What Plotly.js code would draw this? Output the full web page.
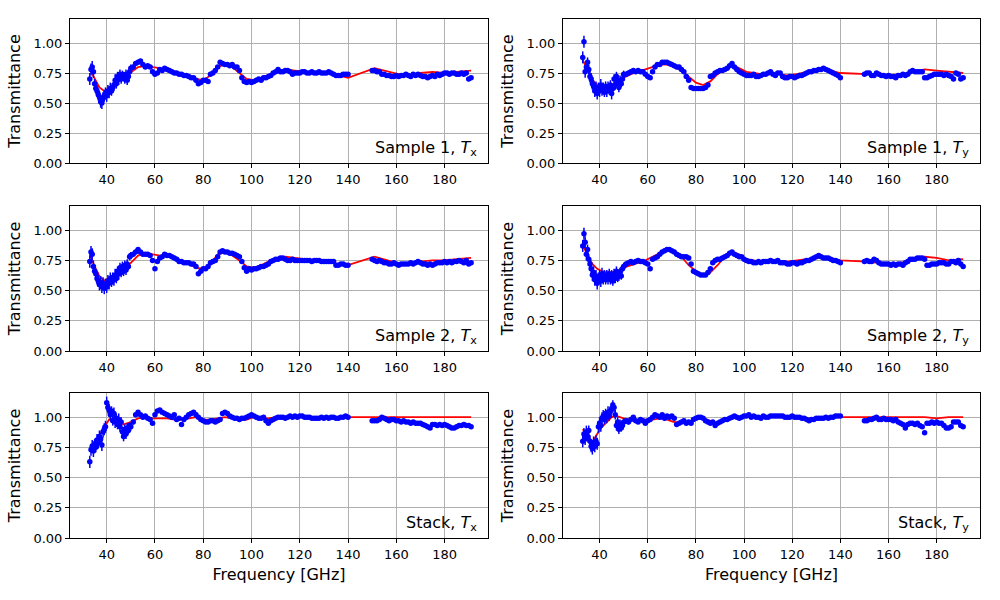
<!DOCTYPE html>
<html>
<head>
<meta charset="utf-8">
<script src="https://cdn.plot.ly/plotly-3.0.1.min.js"></script>
<style>html,body{margin:0;padding:0;background:#fff;}#chart{width:1000px;height:600px;}</style>
</head>
<body>
<div id="chart"></div>
<script>
// Measured frequencies [GHz]
const freq = [
33,33.5,34,34.5,35,35.5,36,36.5,37,37.5,38,38.5,39,39.5,40,40.5,41,41.5,42,42.5,43,43.5,44,44.5,45,45.5,46,46.5,47,47.5,48,48.5,49,49.5,50,
51,52,53,54,55,56,57,58,59,60,
61,62,63,64,65,66,67,68,69,70,
71,72,73,74,75,76,77,78,79,80,
81,82,83,84,85,86,87,88,89,90,
91,92,93,94,95,96,97,98,99,100,
101,102,103,104,105,106,107,108,109,110,
111,112,113,114,115,116,117,118,119,120,
121,122,123,124,125,126,127,128,129,130,
131,132,133,134,135,136,137,138,139,140,
150,151,152,153,154,155,156,157,158,159,
160,161,162,163,164,165,166,167,168,169,
170,171,172,173,174,175,176,177,178,179,
180,181,182,183,184,185,186,187,188,189,190,191];

// Measurement uncertainty (shared)
const sigma = [
0.05,0.05,0.05,0.05,0.04,0.04,0.05,0.05,0.05,0.05,0.05,0.05,0.05,0.05,0.05,0.05,0.05,0.05,0.04,0.04,0.05,0.05,0.04,0.04,0.05,0.04,0.04,0.04,0.04,0.04,0.04,0.04,0.03,0.03,0.03,
0.02,0.02,0.02,0.015,0.015,0.015,0.015,0.015,0.015,0.015,
0.01,0.01,0.01,0.01,0.01,0.01,0.01,0.01,0.01,0.01,
0.01,0.01,0.01,0.01,0.01,0.01,0.01,0.01,0.01,0.01,
0.01,0.01,0.01,0.01,0.01,0.01,0.01,0.01,0.01,0.01,
0.01,0.01,0.01,0.01,0.01,0.01,0.01,0.01,0.01,0.01,
0.01,0.01,0.01,0.01,0.01,0.01,0.01,0.01,0.01,0.01,
0.01,0.01,0.01,0.01,0.01,0.01,0.01,0.01,0.01,0.01,
0.01,0.01,0.01,0.01,0.01,0.01,0.01,0.01,0.01,0.01,
0.01,0.01,0.01,0.01,0.01,0.01,0.01,0.01,0.01,0.01,
0.01,0.01,0.01,0.01,0.01,0.01,0.01,0.01,0.01,0.01,
0.01,0.01,0.01,0.01,0.01,0.01,0.01,0.01,0.01,0.01,
0.01,0.01,0.01,0.01,0.01,0.01,0.01,0.01,0.01,0.01,
0.01,0.01,0.01,0.01,0.01,0.01,0.01,0.01,0.01,0.01,0.01,0.01];

const s1Tx = [
0.70,0.78,0.80,0.76,0.66,0.62,0.60,0.57,0.55,0.51,0.50,0.54,0.56,0.58,0.56,0.60,0.59,0.62,0.60,0.63,0.65,0.69,0.66,0.72,0.70,0.74,0.70,0.73,0.72,0.70,0.74,0.69,0.72,0.76,0.79,
0.80,0.83,0.84,0.85,0.82,0.80,0.81,0.80,0.76,0.74,
0.75,0.78,0.77,0.79,0.78,0.77,0.76,0.75,0.75,0.74,
0.74,0.73,0.73,0.72,0.71,0.71,0.69,0.66,0.67,0.69,
0.69,0.68,0.74,0.75,0.77,0.80,0.84,0.83,0.82,0.82,
0.81,0.82,0.80,0.80,0.77,0.71,0.68,0.67,0.68,0.67,
0.68,0.69,0.70,0.69,0.71,0.71,0.72,0.73,0.75,0.76,
0.78,0.76,0.76,0.77,0.77,0.76,0.74,0.75,0.75,0.75,
0.76,0.76,0.75,0.75,0.76,0.75,0.75,0.76,0.75,0.75,
0.75,0.76,0.75,0.74,0.73,0.73,0.73,0.74,0.74,0.74,
0.77,0.77,0.76,0.76,0.74,0.74,0.73,0.73,0.72,0.72,
0.73,0.72,0.73,0.73,0.74,0.73,0.72,0.74,0.73,0.74,
0.73,0.72,0.72,0.71,0.72,0.73,0.72,0.74,0.73,0.74,
0.75,0.75,0.74,0.75,0.75,0.74,0.74,0.75,0.74,0.75,0.70,0.71];

const s1Ty = [
0.88,1.01,0.76,0.80,0.84,0.78,0.72,0.70,0.66,0.64,0.60,0.63,0.58,0.62,0.60,0.65,0.61,0.62,0.59,0.64,0.60,0.63,0.61,0.65,0.58,0.62,0.70,0.65,0.72,0.67,0.63,0.69,0.66,0.70,0.74,
0.74,0.75,0.76,0.77,0.76,0.77,0.76,0.76,0.74,0.72,
0.71,0.76,0.80,0.82,0.82,0.84,0.84,0.84,0.83,0.82,
0.81,0.80,0.80,0.78,0.76,0.72,0.69,0.63,0.62,0.62,
0.62,0.62,0.62,0.63,0.65,0.72,0.73,0.75,0.76,0.77,
0.77,0.78,0.79,0.81,0.83,0.80,0.78,0.76,0.75,0.74,
0.73,0.73,0.73,0.74,0.72,0.72,0.73,0.74,0.74,0.75,
0.76,0.74,0.73,0.75,0.75,0.72,0.71,0.71,0.72,0.72,
0.71,0.72,0.73,0.73,0.74,0.75,0.76,0.76,0.77,0.77,
0.78,0.78,0.79,0.78,0.77,0.76,0.75,0.74,0.73,0.71,
0.74,0.75,0.75,0.73,0.73,0.75,0.74,0.73,0.73,0.72,
0.73,0.72,0.72,0.71,0.73,0.73,0.74,0.73,0.74,0.76,
0.77,0.76,0.76,0.76,0.76,0.71,0.71,0.72,0.73,0.74,
0.74,0.74,0.74,0.73,0.74,0.73,0.72,0.70,0.75,0.74,0.70,0.71];

const s2Tx = [
0.74,0.82,0.80,0.70,0.66,0.64,0.60,0.58,0.55,0.57,0.53,0.56,0.52,0.55,0.53,0.58,0.56,0.60,0.57,0.61,0.59,0.63,0.60,0.66,0.64,0.69,0.65,0.70,0.66,0.71,0.67,0.72,0.70,0.78,0.79,
0.80,0.82,0.84,0.82,0.80,0.80,0.80,0.79,0.75,0.68,
0.74,0.77,0.78,0.80,0.79,0.79,0.78,0.77,0.76,0.74,
0.74,0.73,0.73,0.73,0.72,0.72,0.70,0.64,0.66,0.68,
0.68,0.70,0.73,0.74,0.75,0.78,0.82,0.83,0.82,0.82,
0.81,0.81,0.80,0.79,0.78,0.74,0.69,0.66,0.68,0.67,
0.68,0.68,0.69,0.70,0.70,0.71,0.72,0.74,0.75,0.76,
0.76,0.77,0.77,0.76,0.75,0.75,0.76,0.75,0.75,0.75,
0.75,0.75,0.75,0.75,0.74,0.75,0.75,0.75,0.74,0.74,
0.74,0.74,0.74,0.74,0.71,0.71,0.72,0.72,0.71,0.71,
0.76,0.75,0.74,0.75,0.74,0.73,0.73,0.72,0.72,0.73,
0.72,0.71,0.72,0.72,0.72,0.72,0.73,0.72,0.73,0.74,
0.73,0.72,0.72,0.71,0.72,0.71,0.72,0.73,0.73,0.73,
0.74,0.73,0.74,0.73,0.74,0.74,0.75,0.74,0.73,0.75,0.72,0.73];

const s2Ty = [
0.87,0.97,0.90,0.80,0.84,0.76,0.72,0.68,0.63,0.65,0.59,0.62,0.56,0.60,0.62,0.58,0.64,0.60,0.63,0.59,0.62,0.60,0.64,0.59,0.62,0.58,0.64,0.60,0.66,0.61,0.62,0.65,0.62,0.68,0.70,
0.72,0.73,0.74,0.73,0.74,0.75,0.74,0.74,0.73,0.72,
0.68,0.76,0.77,0.78,0.80,0.82,0.83,0.84,0.84,0.83,
0.82,0.80,0.79,0.78,0.78,0.78,0.77,0.72,0.66,0.65,
0.64,0.63,0.63,0.63,0.65,0.68,0.73,0.75,0.76,0.76,
0.77,0.78,0.79,0.81,0.82,0.80,0.79,0.78,0.78,0.76,
0.75,0.74,0.74,0.73,0.73,0.74,0.73,0.74,0.74,0.74,
0.75,0.74,0.74,0.75,0.73,0.73,0.73,0.72,0.72,0.73,
0.73,0.72,0.73,0.73,0.74,0.75,0.75,0.76,0.77,0.78,
0.79,0.78,0.77,0.77,0.77,0.76,0.75,0.75,0.74,0.73,
0.74,0.75,0.74,0.74,0.76,0.75,0.73,0.72,0.72,0.72,
0.72,0.71,0.72,0.71,0.72,0.72,0.71,0.73,0.74,0.76,
0.76,0.76,0.77,0.77,0.77,0.76,0.71,0.71,0.72,0.72,
0.72,0.73,0.73,0.73,0.72,0.72,0.74,0.74,0.73,0.75,0.72,0.70];

const stTx = [
0.63,0.73,0.76,0.72,0.78,0.75,0.81,0.79,0.84,0.82,0.77,0.88,0.90,0.92,1.12,1.08,1.06,1.02,1.05,0.97,1.03,0.96,0.99,0.94,0.98,0.92,0.96,0.88,0.84,0.90,0.86,0.91,0.89,0.93,0.92,
0.96,1.02,1.04,1.02,1.00,1.01,0.99,0.98,0.95,1.02,
1.05,1.06,1.04,1.03,1.02,1.01,1.00,1.02,0.98,0.99,
0.94,0.98,1.00,1.02,1.03,1.04,1.02,1.00,0.98,0.97,
0.96,0.96,0.97,0.97,0.96,0.97,0.98,1.03,1.04,1.03,
1.01,1.00,0.99,0.99,0.98,0.99,0.99,1.00,1.01,1.02,
1.01,1.00,0.99,0.99,1.00,0.97,0.95,0.97,0.98,0.99,
1.00,1.00,1.00,0.99,1.00,1.01,1.00,1.01,1.00,1.01,
1.01,1.00,1.00,1.00,0.99,0.99,0.99,0.99,1.00,0.99,
1.00,0.99,1.00,1.00,0.99,0.99,1.00,1.00,1.01,1.00,
0.97,0.97,0.97,0.98,1.00,0.99,0.98,0.97,0.98,0.98,
0.97,0.97,0.96,0.97,0.96,0.96,0.95,0.96,0.95,0.95,
0.95,0.94,0.93,0.92,0.91,0.94,0.94,0.93,0.94,0.93,
0.94,0.93,0.92,0.91,0.91,0.92,0.93,0.93,0.94,0.93,0.93,0.92];

const stTy = [
0.80,0.86,0.82,0.88,0.84,0.89,0.80,0.76,0.74,0.79,0.76,0.80,0.78,0.92,0.95,0.93,0.99,1.01,0.98,1.03,1.00,1.04,1.01,1.05,1.07,1.10,1.08,1.02,0.93,0.96,0.90,0.94,0.91,0.93,0.96,
0.97,0.96,0.98,1.00,0.97,0.96,0.98,0.97,0.95,0.97,
0.98,1.00,1.02,1.01,1.00,1.02,0.99,1.01,1.00,1.01,
0.99,0.94,0.95,0.96,0.97,0.95,0.96,0.95,0.98,0.99,
1.00,1.00,0.99,0.97,0.96,0.95,0.96,0.93,0.95,0.96,
0.97,0.98,0.98,0.99,1.00,1.01,1.00,0.99,1.00,1.01,
1.01,1.02,1.00,1.01,1.00,1.00,0.99,1.01,1.00,1.00,
1.01,1.01,1.01,1.01,1.01,1.01,1.00,1.00,1.00,1.01,
1.00,1.00,1.00,0.99,0.99,0.98,0.97,0.98,0.98,0.99,
0.99,0.99,0.99,1.00,0.99,1.00,1.00,1.01,1.01,1.01,
0.97,0.97,0.98,0.98,0.99,1.00,0.98,0.98,0.99,0.98,
0.98,0.98,0.97,0.98,0.96,0.95,0.94,0.91,0.94,0.95,
0.95,0.94,0.95,0.93,0.92,0.87,0.95,0.95,0.96,0.95,
0.96,0.95,0.95,0.93,0.91,0.91,0.92,0.96,0.96,0.96,0.93,0.92];

// Model (fit) curves
const modelFreq = [33,35,37,39,41,43,45,47,
50,53,56,59,62,65,68,71,74,77,80,83,86,89,92,95,98,101,104,107,110,
114,118,122,126,130,134,138,140,
151,155,160,165,170,175,180,185,191];

const m1Tx = [0.78,0.70,0.63,0.60,0.62,0.65,0.68,0.71,
0.76,0.80,0.81,0.80,0.79,0.78,0.76,0.74,0.72,0.70,0.69,0.73,0.80,0.82,0.80,0.75,0.70,0.69,0.71,0.73,0.76,
0.78,0.77,0.76,0.76,0.75,0.74,0.72,0.71,
0.79,0.77,0.74,0.72,0.75,0.76,0.75,0.76,0.77];
const m1Ty = [0.86,0.77,0.69,0.65,0.64,0.64,0.65,0.67,
0.71,0.74,0.76,0.78,0.80,0.82,0.82,0.80,0.77,0.72,0.67,0.65,0.68,0.74,0.79,0.82,0.79,0.76,0.75,0.74,0.74,
0.74,0.73,0.74,0.76,0.78,0.78,0.76,0.75,
0.74,0.74,0.73,0.74,0.76,0.78,0.77,0.76,0.75];
const m2Tx = [0.80,0.70,0.62,0.58,0.60,0.63,0.65,0.67,
0.73,0.79,0.81,0.80,0.79,0.78,0.77,0.75,0.72,0.69,0.68,0.72,0.80,0.82,0.79,0.75,0.70,0.69,0.71,0.74,0.76,
0.78,0.77,0.76,0.75,0.74,0.73,0.71,0.71,
0.78,0.76,0.73,0.72,0.74,0.75,0.75,0.76,0.77];
const m2Ty = [0.88,0.79,0.72,0.68,0.66,0.65,0.65,0.66,
0.69,0.71,0.73,0.75,0.78,0.81,0.83,0.82,0.78,0.71,0.66,0.63,0.65,0.71,0.78,0.82,0.80,0.76,0.75,0.74,0.74,
0.74,0.74,0.75,0.76,0.77,0.78,0.76,0.75,
0.74,0.73,0.72,0.73,0.75,0.78,0.77,0.75,0.76];
const mStTx = [0.74,0.79,0.85,0.91,0.98,0.99,0.96,0.94,
0.96,0.99,1.00,0.99,0.99,0.99,0.98,0.98,0.99,1.00,0.98,0.98,0.99,1.00,0.99,0.98,0.98,1.00,0.99,0.99,1.00,
1.00,1.00,1.00,1.00,1.00,1.00,1.00,1.00,
1.00,1.00,1.00,1.00,1.00,1.00,1.00,1.00,1.00];
const mStTy = [0.90,0.84,0.79,0.86,0.92,0.96,1.00,1.01,
0.99,0.98,0.98,0.98,0.98,0.99,0.98,0.96,0.95,0.95,0.98,0.99,0.97,0.94,0.97,0.99,1.00,1.00,1.00,1.00,1.00,
1.00,1.00,1.00,0.99,0.99,1.00,1.00,1.00,
1.00,1.00,1.00,1.00,1.00,1.00,0.99,1.00,1.00];

const panels = [
  {data: s1Tx, model: m1Tx, label: 'Sample 1, <i>T</i><sub>x</sub>'},
  {data: s1Ty, model: m1Ty, label: 'Sample 1, <i>T</i><sub>y</sub>'},
  {data: s2Tx, model: m2Tx, label: 'Sample 2, <i>T</i><sub>x</sub>'},
  {data: s2Ty, model: m2Ty, label: 'Sample 2, <i>T</i><sub>y</sub>'},
  {data: stTx, model: mStTx, label: 'Stack, <i>T</i><sub>x</sub>'},
  {data: stTy, model: mStTy, label: 'Stack, <i>T</i><sub>y</sub>'}
];

const W = 1000, H = 600;
const colX = [[70, 488], [563, 980]];
const rowY = [[19, 163], [206, 351], [393, 538]];
const FONT = 'DejaVu Sans, sans-serif';

const traces = [];
const layout = {
  width: W, height: H,
  margin: {l: 0, r: 0, t: 0, b: 0},
  paper_bgcolor: '#ffffff', plot_bgcolor: '#ffffff',
  showlegend: false,
  font: {family: FONT, size: 13, color: '#000000'},
  annotations: []
};

panels.forEach((p, i) => {
  const r = Math.floor(i / 2), c = i % 2;
  const n = i + 1;
  const xa = 'x' + (n === 1 ? '' : n), ya = 'y' + (n === 1 ? '' : n);
  traces.push({
    x: modelFreq, y: p.model, xaxis: xa, yaxis: ya,
    mode: 'lines', line: {color: '#ff0000', width: 1.8}, hoverinfo: 'skip'
  });
  traces.push({
    x: freq, y: p.data, xaxis: xa, yaxis: ya,
    mode: 'markers', marker: {color: '#0000ff', size: 5.5},
    error_y: {type: 'data', array: sigma, visible: true, color: '#0000ff', thickness: 1.5, width: 0}
  });
  const common = {
    showline: true, mirror: true, linecolor: '#000000', linewidth: 1,
    ticks: 'outside', ticklen: 4, tickcolor: '#000000',
    showgrid: true, gridcolor: '#b0b0b0', gridwidth: 1, zeroline: false,
    tickfont: {family: FONT, size: 13, color: '#000000'}
  };
  const xKey = 'xaxis' + (n === 1 ? '' : n), yKey = 'yaxis' + (n === 1 ? '' : n);
  const xax = Object.assign({}, common, {
    domain: [colX[c][0] / W, colX[c][1] / W],
    anchor: ya, range: [24.8, 198], tick0: 0, dtick: 20
  });
  if (r === 2) {
    xax.title = {text: 'Frequency [GHz]', font: {family: FONT, size: 16, color: '#000000'}, standoff: 8};
  }
  layout[xKey] = xax;
  layout[yKey] = Object.assign({}, common, {
    domain: [1 - rowY[r][1] / H, 1 - rowY[r][0] / H],
    anchor: xa, range: [0, 1.2], tickvals: [0, 0.25, 0.5, 0.75, 1.0], tickformat: '.2f',
    title: {text: 'Transmittance', font: {family: FONT, size: 16, color: '#000000'}, standoff: 8}
  });
  layout.annotations.push({
    xref: xa + ' domain', yref: ya + ' domain', x: 0.978, y: 0.1,
    xanchor: 'right', yanchor: 'middle', showarrow: false,
    text: p.label, font: {family: FONT, size: 16, color: '#000000'}
  });
});

Plotly.newPlot('chart', traces, layout, {staticPlot: true, displayModeBar: false});
</script>
</body>
</html>
